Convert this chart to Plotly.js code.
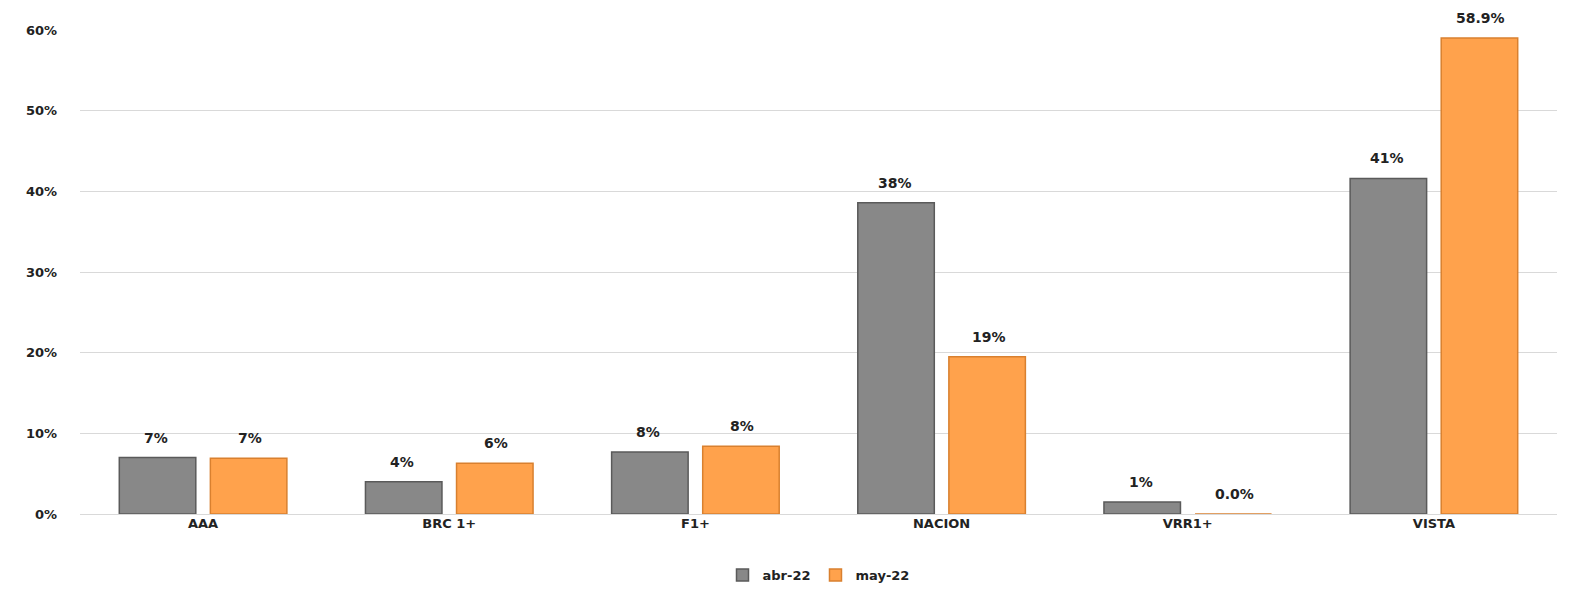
<!DOCTYPE html>
<html>
<head>
<meta charset="utf-8">
<script src="https://cdn.plot.ly/plotly-3.0.1.min.js"></script>
<style>body{margin:0;background:#fff}</style>
</head>
<body>
<div id="chart" style="width:1588px;height:594px"></div>
<script>
var categories = ["AAA", "BRC 1+", "F1+", "NACION", "VRR1+", "VISTA"];
var abr22 = [0.070, 0.040, 0.077, 0.386, 0.015, 0.416];
var may22 = [0.069, 0.063, 0.084, 0.195, 0.0, 0.590];
var abrLabels = ["7%", "4%", "8%", "38%", "1%", "41%"];
var mayLabels = ["7%", "6%", "8%", "19%", "0.0%", "58.9%"];

var fontBase = { family: "DejaVu Sans, Verdana, sans-serif", size: 13, color: "#222", weight: "bold" };

var traces = [
  {
    type: "bar", name: "abr-22", x: categories, y: abr22,
    marker: { color: "#888888", line: { color: "#5a5a5a", width: 1.5 } }
  },
  {
    type: "bar", name: "may-22", x: categories, y: may22,
    marker: { color: "#ffa24c", line: { color: "#d9802f", width: 1.5 } }
  }
];

var annotations = [];
categories.forEach(function (c, i) {
  annotations.push({ x: c, y: abr22[i], text: abrLabels[i], showarrow: false, xshift: -47, yshift: 20,
    font: { family: fontBase.family, size: 14, color: "#222", weight: "bold" } });
  annotations.push({ x: c, y: may22[i], text: mayLabels[i], showarrow: false, xshift: 47, yshift: 20,
    font: { family: fontBase.family, size: 14, color: "#222", weight: "bold" } });
});

var layout = {
  width: 1588, height: 594,
  margin: { l: 80, r: 31, t: 30, b: 80, autoexpand: false },
  font: fontBase,
  paper_bgcolor: "#fff", plot_bgcolor: "#fff",
  barmode: "group", bargap: 0.26, bargroupgap: 0.16,
  annotations: annotations,
  xaxis: { tickfont: { size: 13, weight: "bold" }, showline: false, ticks: "" },
  yaxis: {
    range: [0, 0.6], dtick: 0.1, tickformat: ".0%",
    gridcolor: "#d9d9d9", zeroline: true, zerolinecolor: "#d9d9d9",
    tickfont: { size: 13, weight: "bold" }, ticklabelstandoff: 22
  },
  legend: { orientation: "h", x: 0.5, xanchor: "center", y: -0.095, yanchor: "top", font: { size: 13, weight: "bold" } },
  showlegend: true
};

Plotly.newPlot("chart", traces, layout, { displayModeBar: false });
</script>
</body>
</html>
